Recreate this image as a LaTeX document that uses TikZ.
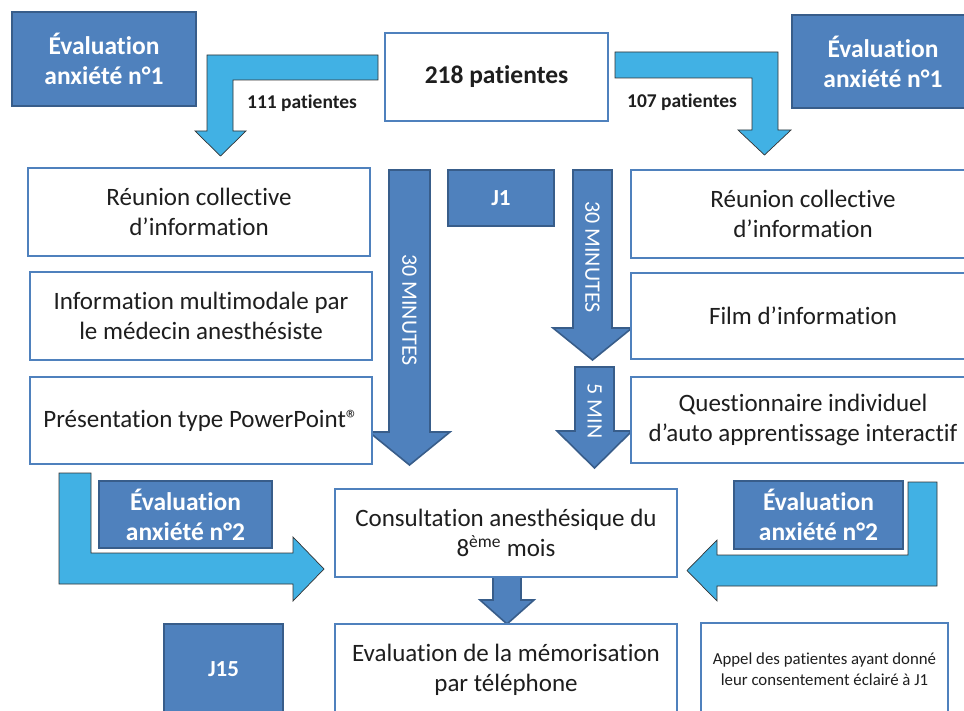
\documentclass[tikz,border=0pt]{standalone}
\usepackage{fontspec}
\setmainfont{Carlito}[Ligatures={NoCommon}]
\definecolor{darkbox}{RGB}{79,129,189}
\definecolor{darkline}{RGB}{56,93,138}
\definecolor{lightarrow}{RGB}{65,177,228}
\definecolor{txt}{RGB}{30,30,30}
\tikzset{
  whitebox/.style={draw=darkbox, line width=2pt, fill=white, text=txt, align=center, inner sep=2pt,
    font=\fontsize{25}{30}\selectfont},
  darkbox/.style={draw=darkline, line width=2pt, fill=darkbox, text=white, align=center, inner sep=2pt,
    font=\fontsize{25.5}{30}\selectfont\bfseries},
  bluearrow/.style={fill=darkbox, draw=darkline, line width=1.6pt, line join=miter},
  lightblock/.style={fill=lightarrow, draw=black!80, line width=0.7pt, line join=miter},
  arrowtext/.style={text=white, font=\fontsize{22}{26}\selectfont, rotate=-90},
  countlabel/.style={text=txt, font=\fontsize{19.5}{22}\selectfont\bfseries}
}
\begin{document}
\begin{tikzpicture}[x=1pt,y=-1pt]
\useasboundingbox (0,0) rectangle (964,711);
\fill[white] (0,0) rectangle (964,711);

% top bent arrows
\draw[lightblock] (378,55) -- (207,55) -- (207,131) -- (195,131) -- (220.5,156) -- (246,131) -- (233,131) -- (233,80) -- (378,80) -- cycle;
\draw[lightblock] (615,52) -- (778,52) -- (778,130) -- (791,130) -- (764.5,155) -- (738,130) -- (752,130) -- (752,78) -- (615,78) -- cycle;

% dark vertical arrows
\draw[bluearrow] (389,170) -- (430,170) -- (430,432) -- (450,432) -- (409.5,465) -- (369,432) -- (389,432) -- cycle;
\draw[bluearrow] (573,170) -- (612,170) -- (612,328) -- (632,328) -- (592.5,360) -- (553,328) -- (573,328) -- cycle;
\draw[bluearrow] (575,367) -- (614,367) -- (614,431) -- (632,431) -- (594.5,468) -- (557,431) -- (575,431) -- cycle;
\draw[bluearrow] (493,577) -- (521,577) -- (521,600) -- (534,600) -- (507,624) -- (480,600) -- (493,600) -- cycle;

% bottom bent arrows
\draw[lightblock] (59,473) -- (91,473) -- (91,553) -- (293,553) -- (293,537) -- (324,569) -- (293,601) -- (293,584) -- (59,584) -- cycle;
\draw[lightblock] (937,482) -- (908,482) -- (908,555) -- (717,555) -- (717,540) -- (687,570.5) -- (717,601) -- (717,586) -- (937,586) -- cycle;

% arrow texts
\node[arrowtext] (t30l) at (409.5,310) {30 MINUTES};
\node[arrowtext] (t30r) at (592.5,257) {30 MINUTES};
\node[arrowtext] (t5) at (594.5,411) {5 MIN};

% count labels
\node[countlabel] (c111) at (302,103) {111 patientes};
\node[countlabel] (c107) at (682,102) {107 patientes};

% white boxes
\node[whitebox, minimum width=223pt, minimum height=88pt, font=\fontsize{25.5}{30}\selectfont\bfseries] (p218) at (496.5,77) {218 patientes};
\node[whitebox, minimum width=342pt, minimum height=88pt] (reuL) at (199,212) {Réunion collective\\d’information};
\node[whitebox, minimum width=342pt, minimum height=88pt] (infoL) at (201,316) {Information multimodale par\\le médecin anesthésiste};
\node[whitebox, minimum width=342pt, minimum height=87pt] (presL) at (201,420.5) {Présentation type PowerPoint®};
\node[whitebox, minimum width=344pt, minimum height=88pt] (reuR) at (803,214) {Réunion collective\\d’information};
\node[whitebox, minimum width=344pt, minimum height=86pt] (filmR) at (803,316) {Film d’information};
\node[whitebox, minimum width=344pt, minimum height=86pt] (questR) at (803,420) {Questionnaire individuel\\d’auto apprentissage interactif};
\node[whitebox, minimum width=342pt, minimum height=88pt] (consult) at (506,533) {Consultation anesthésique du\\8\textsuperscript{ème} mois};
\node[whitebox, minimum width=342pt, minimum height=91pt] (evalmem) at (506,669.5) {Evaluation de la mémorisation\\par téléphone};
\node[whitebox, minimum width=247pt, minimum height=92pt, font=\fontsize{16.8}{21}\selectfont] (appel) at (824.5,669) {Appel des patientes ayant donné\\leur consentement éclairé à J1};

% dark boxes
\node[darkbox, minimum width=184pt, minimum height=94pt] (evalL1) at (104,59) {Évaluation\\anxiété n°1};
\node[darkbox, minimum width=182pt, minimum height=93pt] (evalR1) at (883,61.5) {Évaluation\\anxiété n°1};
\node[darkbox, minimum width=106pt, minimum height=56pt, font=\fontsize{23}{26}\selectfont\bfseries] (j1) at (501,198) {J1};
\node[darkbox, minimum width=173pt, minimum height=67pt] (evalL2) at (185.5,514.5) {Évaluation\\anxiété n°2};
\node[darkbox, minimum width=169pt, minimum height=68pt] (evalR2) at (818.5,515) {Évaluation\\anxiété n°2};
\node[darkbox, minimum width=119pt, minimum height=91pt, font=\fontsize{23}{26}\selectfont\bfseries] (j15) at (223.5,669.5) {J15};
\end{tikzpicture}
\end{document}
